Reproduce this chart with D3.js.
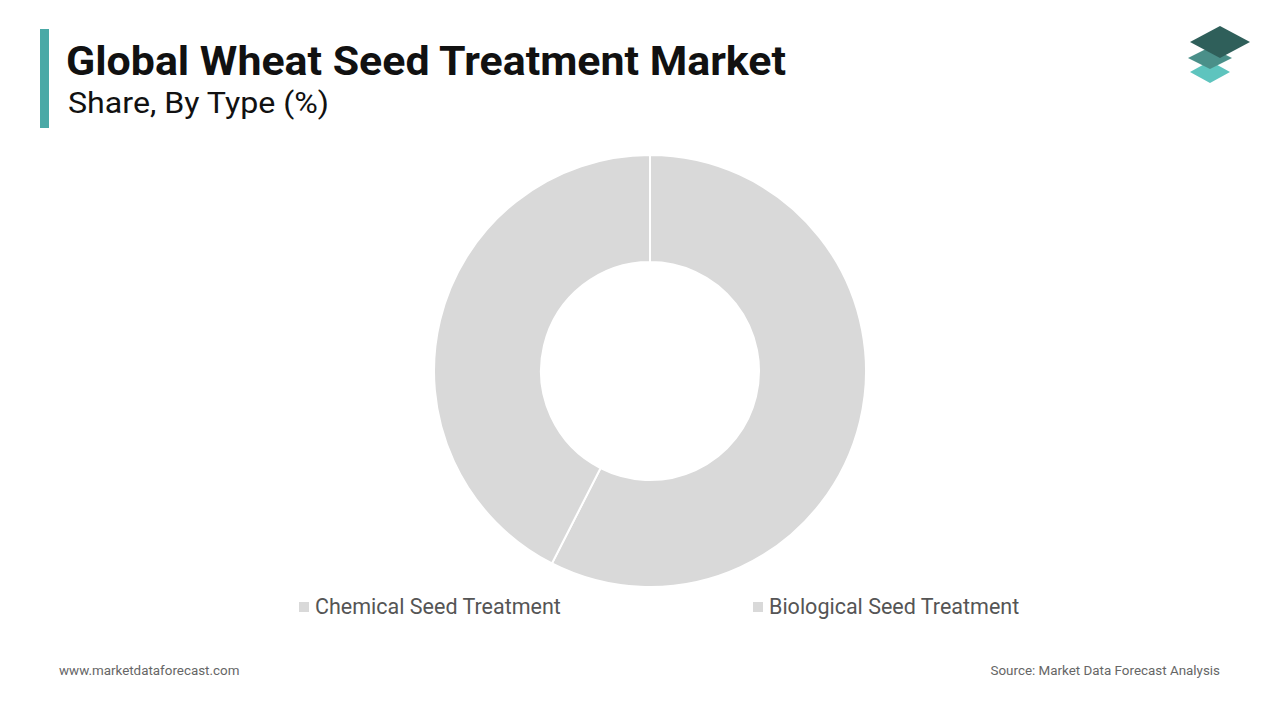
<!DOCTYPE html>
<html><head><meta charset="utf-8">
<script src="https://cdn.jsdelivr.net/npm/d3@7"></script>
<style>body{margin:0;background:#fff}svg{font-family:Roboto,sans-serif}</style>
</head><body><svg id="c" width="1280" height="720"></svg>
<script>
const categories = ["Chemical Seed Treatment", "Biological Seed Treatment"];
const values = [57.5, 42.5];
const colors = ["#d9d9d9", "#d9d9d9"];

const svg = d3.select("#c");
svg.append("rect").attr("x",40).attr("y",29).attr("width",9).attr("height",99).attr("fill","#4aa9a6");
svg.append("text").attr("x",66).attr("y",75).attr("font-size",40).attr("font-weight",700).attr("fill","#111").attr("textLength",720).attr("lengthAdjust","spacingAndGlyphs").text("Global Wheat Seed Treatment Market");
svg.append("text").attr("x",68).attr("y",113).attr("font-size",30).attr("fill","#111").attr("textLength",261).attr("lengthAdjust","spacingAndGlyphs").text("Share, By Type (%)");

const lg = svg.append("g");
[[72,"#5ec4be",20,11],[58,"#4a8f89",22,11],[42,"#2f5f5a",30,16]].forEach(([y,c,w,h],i)=>{
  const x0 = i==2?1220:1210;
  lg.append("path").attr("d",`M${x0-w},${y} L${x0},${y-h} L${x0+w},${y} L${x0},${y+h} Z`).attr("fill",c);
});

const g = svg.append("g").attr("transform","translate(650,371)");
const pie = d3.pie().sort(null).value(d=>d)(values);
const arc = d3.arc().innerRadius(109).outerRadius(216);
g.selectAll("path").data(pie).join("path").attr("d",arc).attr("fill",(d,i)=>colors[i]).attr("stroke","#fff").attr("stroke-width",2);

const lx=[299,753];
categories.forEach((c,i)=>{
  svg.append("rect").attr("x",lx[i]).attr("y",602).attr("width",10).attr("height",10).attr("fill",colors[i]);
  svg.append("text").attr("x",lx[i]+16).attr("y",614).attr("font-size",21.5).attr("fill","#555").text(c);
});
svg.append("text").attr("x",59).attr("y",675).attr("font-size",13.4).attr("fill","#666").text("www.marketdataforecast.com");
svg.append("text").attr("x",1220).attr("y",675).attr("font-size",13.4).attr("fill","#666").attr("text-anchor","end").text("Source: Market Data Forecast Analysis");
</script></body></html>
